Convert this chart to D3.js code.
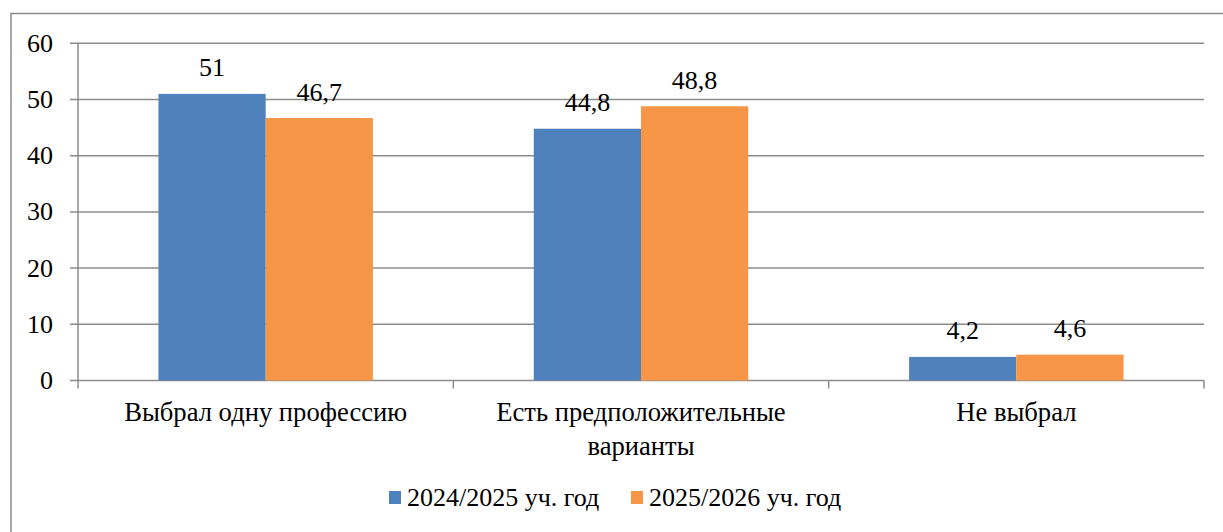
<!DOCTYPE html>
<html>
<head>
<meta charset="utf-8">
<script src="https://cdn.jsdelivr.net/npm/d3@7"></script>
</head>
<body style="margin:0;padding:0;background:#fff">
<svg id="chart" width="1223" height="532" style="display:block"></svg>
<script>
const categories = ["Выбрал одну профессию", "Есть предположительные варианты", "Не выбрал"];
const categoryLines = [["Выбрал одну профессию"], ["Есть предположительные", "варианты"], ["Не выбрал"]];
const seriesNames = ["2024/2025 уч. год", "2025/2026 уч. год"];
const series2024 = [51, 44.8, 4.2];
const series2025 = [46.7, 48.8, 4.6];
const labels2024 = ["51", "44,8", "4,2"];
const labels2025 = ["46,7", "48,8", "4,6"];
const yTicks = [0, 10, 20, 30, 40, 50, 60];
const colors = ["#4F81BD", "#F79646"];

(function () {
const FONT = "'Liberation Serif'";
const FS = 26;
const svg = d3.select("#chart");
const pLeft = 78, pRight = 1204, pTop = 43.3, pBottom = 380.5;
const gridColor = "#8c8c8c";

// outer frame
svg.append("rect").attr("x", 11).attr("y", 13.5).attr("width", 1240).attr("height", 560)
  .attr("fill", "none").attr("stroke", "#8a8a8a").attr("stroke-width", 1.5);

const x0 = d3.scaleBand().domain(categories).range([pLeft, pRight]).paddingInner(0).paddingOuter(0);
const x1 = d3.scaleBand().domain([0, 1]).range([0, x0.bandwidth()]).paddingInner(0).paddingOuter(0.75);
const y = d3.scaleLinear().domain([0, 60]).range([pBottom, pTop]);

// gridlines
svg.append("g").selectAll("line").data(yTicks).join("line")
  .attr("x1", pLeft - 8).attr("x2", pRight)
  .attr("y1", d => y(d)).attr("y2", d => y(d))
  .attr("stroke", gridColor).attr("stroke-width", 1.5);

// y axis line
svg.append("line").attr("x1", pLeft).attr("x2", pLeft).attr("y1", pTop).attr("y2", pBottom + 8)
  .attr("stroke", gridColor).attr("stroke-width", 1.5);

// category ticks
const catEdges = categories.map(c => x0(c) + x0.bandwidth());
svg.append("g").selectAll("line").data(catEdges).join("line")
  .attr("x1", d => d).attr("x2", d => d).attr("y1", pBottom).attr("y2", pBottom + 8)
  .attr("stroke", gridColor).attr("stroke-width", 1.5);

// y tick labels
svg.append("g").selectAll("text").data(yTicks).join("text")
  .attr("x", 53).attr("y", d => y(d) + 8.5)
  .attr("text-anchor", "end").attr("font-size", 26).style("font-family", FONT).attr("fill", "#000")
  .text(d => d);

// bars
const data = [series2024, series2025];
const lbls = [labels2024, labels2025];
data.forEach((s, si) => {
  const g = svg.append("g");
  g.selectAll("rect").data(s).join("rect")
    .attr("x", (d, i) => x0(categories[i]) + x1(si))
    .attr("y", d => y(d))
    .attr("width", x1.bandwidth())
    .attr("height", d => y(0) - y(d))
    .attr("fill", colors[si]);
  g.selectAll("text").data(s).join("text")
    .attr("x", (d, i) => x0(categories[i]) + x1(si) + x1.bandwidth() / 2)
    .attr("y", d => y(d) - 17.5)
    .attr("text-anchor", "middle").attr("font-size", FS).style("font-family", FONT).attr("fill", "#000")
    .text((d, i) => lbls[si][i]);
});

// category labels
categories.forEach((c, i) => {
  const t = svg.append("text").attr("text-anchor", "middle").attr("font-size", 26.6)
    .style("font-family", FONT).attr("fill", "#000");
  categoryLines[i].forEach((line, li) => {
    t.append("tspan").attr("x", x0(c) + x0.bandwidth() / 2).attr("y", 421 + li * 34).text(line);
  });
});

// legend
const legendX = [389, 631];
seriesNames.forEach((n, i) => {
  svg.append("rect").attr("x", legendX[i]).attr("y", 491).attr("width", 12).attr("height", 13).attr("fill", colors[i]);
  svg.append("text").attr("x", legendX[i] + 18).attr("y", 506)
    .attr("font-size", FS).style("font-family", FONT).attr("fill", "#000").text(n);
});
})();
</script>
</body>
</html>
